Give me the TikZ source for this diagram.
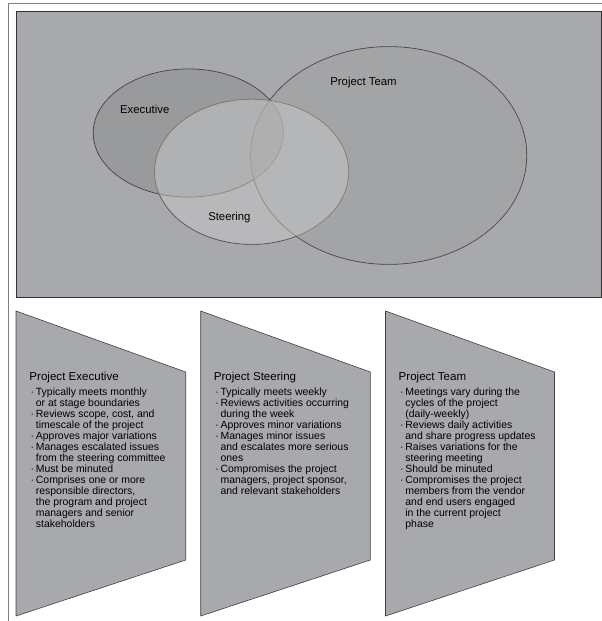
\documentclass[tikz,border=0pt]{standalone}
\usepackage{fontspec}
\setmainfont{Liberation Sans}
\definecolor{bgrey}{HTML}{A8A9AD}
\definecolor{tgrey}{HTML}{A0A0A0}
\definecolor{egrey}{HTML}{8C8C8C}
\definecolor{sgrey}{HTML}{C8C8C8}
\newcommand{\pbul}{\makebox[5.2bp][l]{\textperiodcentered}}
\newcommand{\pind}{\hspace*{5.2bp}}

\begin{document}
\begin{tikzpicture}[x=1bp,y=-1bp,
		panel/.style={fill=bgrey,draw=black!75,line width=0.6bp},
		venn/.style={fill opacity=0.5},
		vline/.style={line width=0.8bp,draw=black!80},
		vlabel/.style={anchor=base,inner sep=0,font=\fontsize{11.4}{13}\selectfont},
		phead/.style={anchor=base west,inner sep=0,font=\fontsize{11.6}{13}\selectfont},
		plist/.style={anchor=north west,inner sep=0,align=left,font=\fontsize{10.5}{11}\selectfont}]
		\useasboundingbox (0,0) rectangle (602,621);
		% frame and backdrop
		\draw[gray,line width=1bp] (8,621) -- (8,4) -- (602,4);
		\draw[fill=bgrey,draw=black!80,line width=1bp] (16,12) rectangle (601.5,297.5);

		% the three circles: outlines first, fills over them
		\draw[vline] (388.7,155.5) ellipse [x radius=138,y radius=108.8];
		\draw[vline] (188.3,133) ellipse [x radius=95,y radius=64];
		\draw[vline] (251.6,171.8) ellipse [x radius=97,y radius=72.5];
		\fill[venn,tgrey] (388.7,155.5) ellipse [x radius=138,y radius=108.8];
		\fill[venn,egrey] (188.3,133) ellipse [x radius=95,y radius=64];
		\fill[venn,sgrey] (251.6,171.8) ellipse [x radius=97,y radius=72.5];
		\node[vlabel] (lexec) at (144.7,113.7) {Executive};
		\node[vlabel] (lteam) at (363.5,86) {Project Team};
		\node[vlabel] (lsteer) at (229.4,220) {Steering};

		% panels
		\draw[panel] (16,311) -- (185.7,372) -- (185.7,560) -- (16,616) -- cycle;
		\draw[panel] (200.7,311) -- (370.3,372) -- (370.3,560) -- (200.7,616) -- cycle;
		\draw[panel] (385.5,311) -- (554.5,372) -- (554.5,560) -- (385.5,616) -- cycle;

		\node[phead] (hexec) at (29.3,380.5) {Project Executive};
		\node[plist] (bexec) at (30.5,388.2) {\pbul Typically meets monthly\\
			\pind or at stage boundaries\\
			\pbul Reviews scope, cost, and\\
			\pind timescale of the project\\
			\pbul Approves major variations\\
			\pbul Manages escalated issues\\
			\pind from the steering committee\\
			\pbul Must be minuted\\
			\pbul Comprises one or more\\
			\pind responsible directors,\\
			\pind the program and project\\
			\pind managers and senior\\
			\pind stakeholders};

		\node[phead] (hsteer) at (213.7,380.5) {Project Steering};
		\node[plist] (bsteer) at (215.2,388.2) {\pbul Typically meets weekly\\
			\pbul Reviews activities occurring\\
			\pind during the week\\
			\pbul Approves minor variations\\
			\pbul Manages minor issues\\
			\pind and escalates more serious\\
			\pind ones\\
			\pbul Compromises the project\\
			\pind managers, project sponsor,\\
			\pind and relevant stakeholders};

		\node[phead] (hteam) at (398.5,380.5) {Project Team};
		\node[plist] (bteam) at (400,388.2) {\pbul Meetings vary during the\\
			\pind cycles of the project\\
			\pind (daily-weekly)\\
			\pbul Reviews daily activities\\
			\pind and share progress updates\\
			\pbul Raises variations for the\\
			\pind steering meeting\\
			\pbul Should be minuted\\
			\pbul Compromises the project\\
			\pind members from the vendor\\
			\pind and end users engaged\\
			\pind in the current project\\
			\pind phase};
	\end{tikzpicture}
\end{document}
